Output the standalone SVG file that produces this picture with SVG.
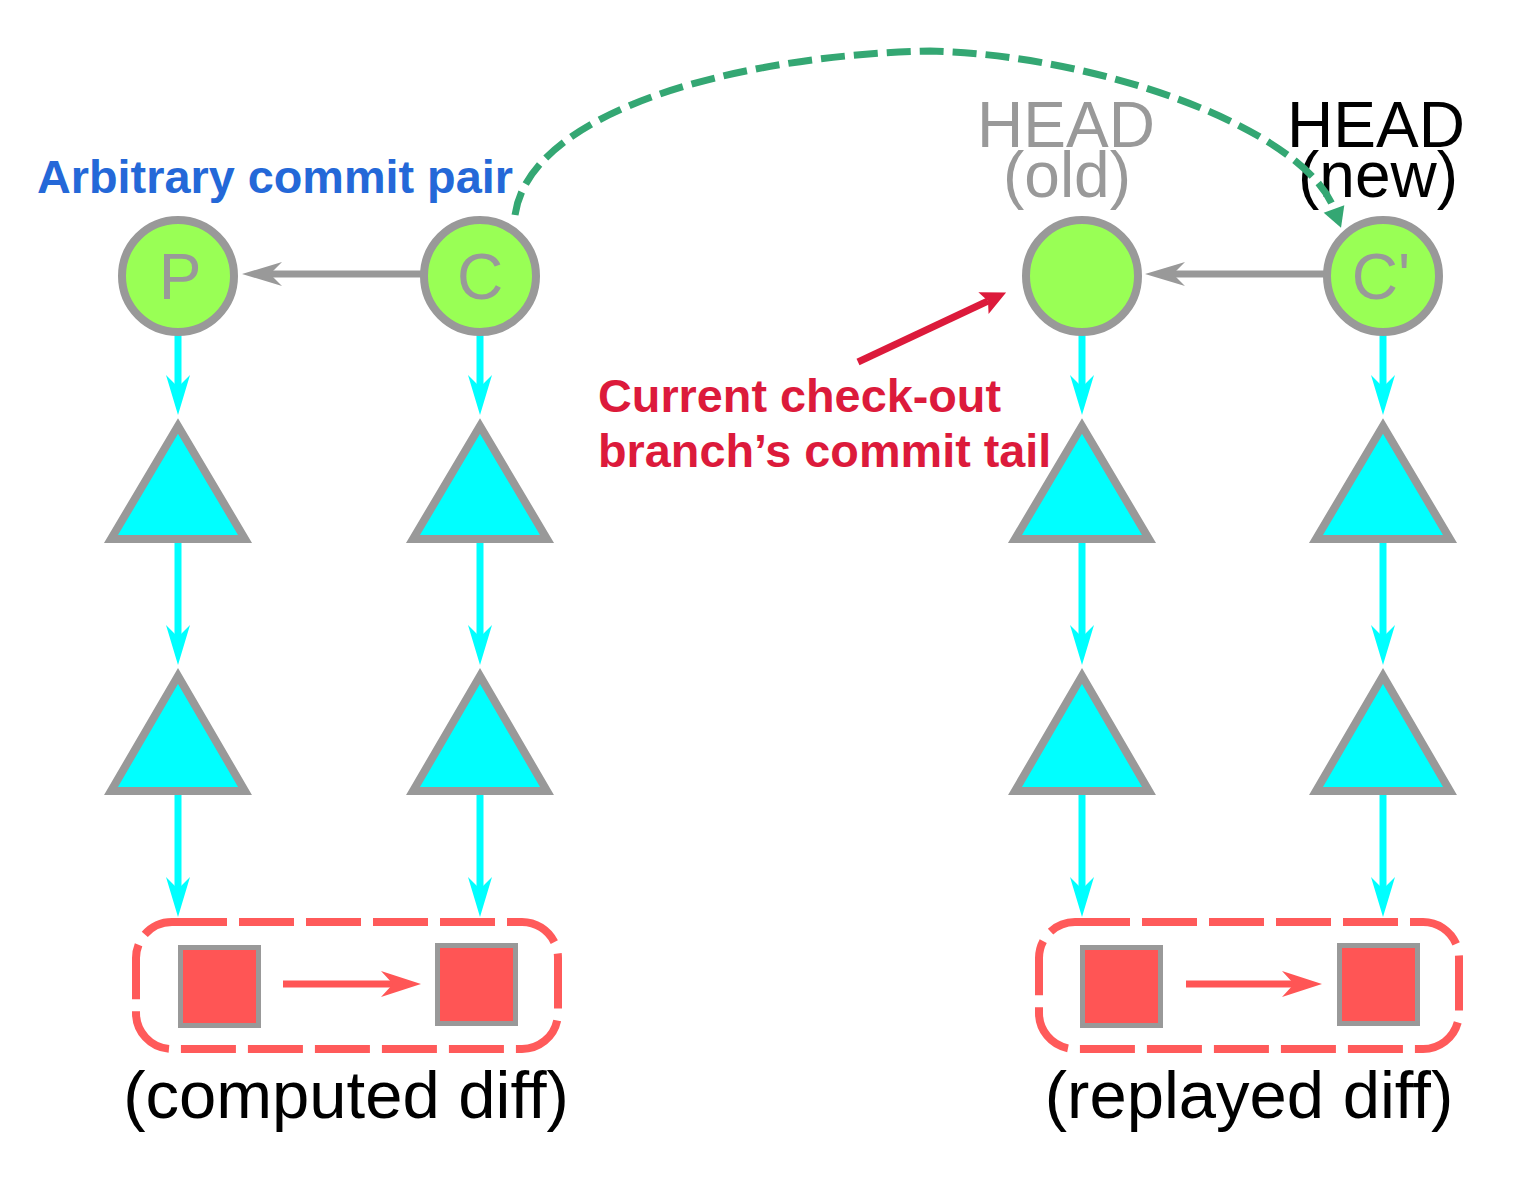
<svg xmlns="http://www.w3.org/2000/svg" width="1530" height="1200" viewBox="0 0 1530 1200">
<style>
  .commit { fill: #99ff55; stroke: #999999; stroke-width: 8; }
  .tree { fill: #00ffff; stroke: #999999; stroke-width: 8; stroke-linejoin: miter; }
  .blob { fill: #ff5555; stroke: #999999; stroke-width: 5; }
  .diffbox { fill: none; stroke: #ff5a5a; stroke-width: 8; stroke-dasharray: 55 12; }
  .lbl { font-family: "Liberation Sans", Arial, Helvetica, sans-serif; }
  .inner { font-size: 64px; fill: #999999; text-anchor: middle; }
  .head { font-size: 64px; text-anchor: middle; }
  .cap { font-size: 67px; fill: #000000; text-anchor: middle; }
  .bold { font-size: 46.8px; font-weight: bold; }
  .cy { stroke: #00ffff; stroke-width: 7; fill: none; marker-end: url(#mCyan); }
  .gr { stroke: #999999; stroke-width: 7; fill: none; marker-end: url(#mGray); }
  .rd { stroke: #ff5555; stroke-width: 7; fill: none; marker-end: url(#mRed); }
</style>
<defs>
  <marker id="mCyan" markerUnits="userSpaceOnUse" viewBox="-14 -14 44 28" markerWidth="44" markerHeight="28" refX="0" refY="0" orient="auto">
    <path d="M28,0 L-12,-12 L0,0 L-12,12 Z" fill="#00ffff"/>
  </marker>
  <marker id="mGray" markerUnits="userSpaceOnUse" viewBox="-14 -14 44 28" markerWidth="44" markerHeight="28" refX="0" refY="0" orient="auto">
    <path d="M28,0 L-12,-12 L0,0 L-12,12 Z" fill="#999999"/>
  </marker>
  <marker id="mRed" markerUnits="userSpaceOnUse" viewBox="-14 -14 44 28" markerWidth="44" markerHeight="28" refX="0" refY="0" orient="auto">
    <path d="M28,0 L-12,-13 L0,0 L-12,13 Z" fill="#ff5555"/>
  </marker>
  <marker id="mCrimson" markerUnits="userSpaceOnUse" viewBox="-8 -14 32 28" markerWidth="32" markerHeight="28" refX="0" refY="0" orient="auto">
    <path d="M20,0 L-5,-12 L0,0 L-5,12 Z" fill="#dc1a3b"/>
  </marker>
  <marker id="mGreen" markerUnits="userSpaceOnUse" viewBox="-4 -14 28 28" markerWidth="28" markerHeight="28" refX="0" refY="0" orient="auto">
    <path d="M0,-11 L20,0 L0,11 Z" fill="#34a773"/>
  </marker>
</defs>

<rect x="0" y="0" width="1530" height="1200" fill="#ffffff"/>

<g id="labels">
  <text id="label-arbitrary" class="lbl bold" x="37" y="193" fill="#2468d8">Arbitrary commit pair</text>
  <text id="label-head-old" class="lbl head" fill="#999999"><tspan x="1066" y="147">HEAD</tspan><tspan x="1067" y="197">(old)</tspan></text>
  <text id="label-head-new" class="lbl head" fill="#000000"><tspan x="1376" y="147">HEAD</tspan><tspan x="1378" y="197">(new)</tspan></text>
  <text id="label-current" class="lbl bold" fill="#dc1a3b"><tspan x="598" y="412">Current check-out</tspan><tspan x="598" y="467">branch’s commit tail</tspan></text>
</g>

<g id="connectors">
  <!-- parent links -->
  <line class="gr" x1="422" y1="274" x2="270" y2="274"/>
  <line class="gr" x1="1324" y1="274" x2="1173" y2="274"/>
  <!-- commit -> tree -->
  <line class="cy" x1="178" y1="330" x2="178" y2="387"/>
  <line class="cy" x1="480" y1="330" x2="480" y2="387"/>
  <line class="cy" x1="1082" y1="330" x2="1082" y2="387"/>
  <line class="cy" x1="1383" y1="330" x2="1383" y2="387"/>
  <!-- tree -> subtree -->
  <line class="cy" x1="178" y1="540" x2="178" y2="637"/>
  <line class="cy" x1="480" y1="540" x2="480" y2="637"/>
  <line class="cy" x1="1082" y1="540" x2="1082" y2="637"/>
  <line class="cy" x1="1383" y1="540" x2="1383" y2="637"/>
  <!-- subtree -> blob -->
  <line class="cy" x1="178" y1="792" x2="178" y2="889"/>
  <line class="cy" x1="480" y1="792" x2="480" y2="889"/>
  <line class="cy" x1="1082" y1="792" x2="1082" y2="889"/>
  <line class="cy" x1="1383" y1="792" x2="1383" y2="889"/>
  <!-- diff arrows -->
  <line class="rd" x1="283" y1="984" x2="393" y2="984"/>
  <line class="rd" x1="1186" y1="984" x2="1294" y2="984"/>
  <!-- pointer to current HEAD -->
  <line x1="858" y1="362" x2="988" y2="301" stroke="#dc1a3b" stroke-width="7" marker-end="url(#mCrimson)"/>
  <!-- cherry-pick curve -->
  <path d="M515,215 C530,110 740,55 930,51 C1100,55 1304,129 1334,209" fill="none" stroke="#34a773" stroke-width="7" stroke-dasharray="24 9" marker-end="url(#mGreen)"/>
</g>

<g id="commit-P"><circle class="commit" cx="178" cy="276" r="56"/><text class="lbl inner" x="180" y="299">P</text></g>
<g id="commit-C"><circle class="commit" cx="480" cy="276" r="56"/><text class="lbl inner" x="480" y="299">C</text></g>
<g id="commit-old"><circle class="commit" cx="1082" cy="276" r="56"/></g>
<g id="commit-Cprime"><circle class="commit" cx="1383" cy="276" r="56"/><text class="lbl inner" x="1381" y="299">C'</text></g>

<g id="tree-P"><polygon class="tree" points="178,426 111,539 245,539"/></g>
<g id="tree-C"><polygon class="tree" points="480,426 413,539 547,539"/></g>
<g id="tree-old"><polygon class="tree" points="1082,426 1015,539 1149,539"/></g>
<g id="tree-Cprime"><polygon class="tree" points="1383,426 1316,539 1450,539"/></g>

<g id="subtree-P"><polygon class="tree" points="178,676 111,791 245,791"/></g>
<g id="subtree-C"><polygon class="tree" points="480,676 413,791 547,791"/></g>
<g id="subtree-old"><polygon class="tree" points="1082,676 1015,791 1149,791"/></g>
<g id="subtree-Cprime"><polygon class="tree" points="1383,676 1316,791 1450,791"/></g>

<g id="computed-diff">
  <rect class="diffbox" x="136" y="922" width="422" height="127" rx="36" ry="36"/>
  <rect class="blob" x="180.5" y="947.5" width="78" height="78"/>
  <rect class="blob" x="437.5" y="945.5" width="78" height="78"/>
  <text class="lbl cap" x="346" y="1118">(computed diff)</text>
</g>
<g id="replayed-diff">
  <rect class="diffbox" x="1039" y="922" width="420" height="127" rx="36" ry="36"/>
  <rect class="blob" x="1082.5" y="947.5" width="78" height="78"/>
  <rect class="blob" x="1339.5" y="945.5" width="78" height="78"/>
  <text class="lbl cap" x="1249" y="1118">(replayed diff)</text>
</g>
</svg>
